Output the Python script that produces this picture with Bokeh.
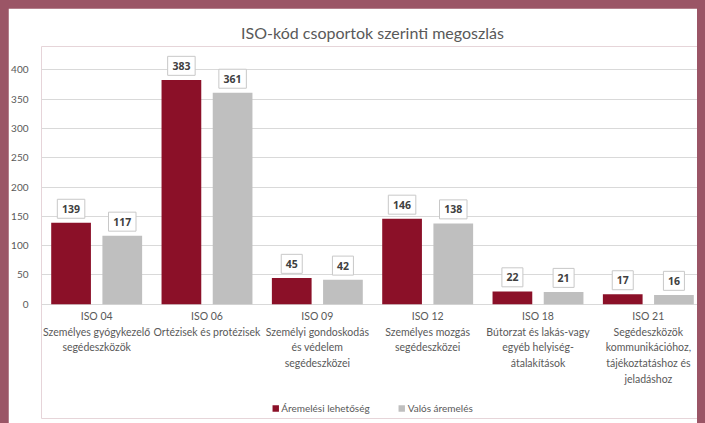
from bokeh.plotting import figure
from bokeh.models import (ColumnDataSource, FactorRange, Range1d, FixedTicker,
                          Legend, LegendItem)
from bokeh.core.properties import value
from bokeh.transform import dodge
from bokeh.embed import file_html
from bokeh.resources import INLINE

# ---- data ----
categories = ["ISO 04", "ISO 06", "ISO 09", "ISO 12", "ISO 18", "ISO 21"]
category_labels = [
    "ISO 04\nSzemélyes gyógykezelő\nsegédeszközök",
    "ISO 06\nOrtézisek és protézisek",
    "ISO 09\nSzemélyi gondoskodás\nés védelem\nsegédeszközei",
    "ISO 12\nSzemélyes mozgás\nsegédeszközei",
    "ISO 18\nBútorzat és lakás-vagy\negyéb helyiség-\nátalakítások",
    "ISO 21\nSegédeszközök\nkommunikációhoz,\ntájékoztatáshoz és\njeladáshoz",
]
aremelesi_lehetoseg = [139, 383, 45, 146, 22, 17]
valos_aremeles = [117, 361, 42, 138, 21, 16]
series_names = ["Áremelési lehetőség", "Valós áremelés"]
y_ticks = [0, 50, 100, 150, 200, 250, 300, 350, 400]
title_text = "ISO-kód csoportok szerinti megoszlás"

RED = "#8B1028"
GREY = "#BFBFBF"
TXT = "#595959"
FONT = "Lato"
NUMFONT = "Noto Sans"

src = ColumnDataSource(dict(
    cat=categories,
    lbl=category_labels,
    zero=[0] * len(categories),
    a=aremelesi_lehetoseg,
    v=valos_aremeles,
    a_txt=[str(x) for x in aremelesi_lehetoseg],
    v_txt=[str(x) for x in valos_aremeles],
    a_bw=[8 + 6.5 * len(str(x)) for x in aremelesi_lehetoseg],
    v_bw=[8 + 6.5 * len(str(x)) for x in valos_aremeles],
))

# the frame extends above the top tick and below zero so that the
# multi-line category labels and the legend are drawn inside it
p = figure(x_range=FactorRange(*categories, range_padding=0),
           y_range=Range1d(-195, 440),
           width=697, height=415, output_backend="svg", toolbar_location=None,
           min_border_left=33, min_border_right=2, min_border_top=38,
           min_border_bottom=5)
p.outline_line_color = None
p.background_fill_color = "white"
p.border_fill_color = "white"

p.title.text = title_text
p.title.align = "center"
p.title.text_font = FONT
p.title.text_font_size = "16px"
p.title.text_font_style = "normal"
p.title.text_color = TXT

off = 0.232
w = 0.36
r1 = p.vbar(x=dodge("cat", -off, range=p.x_range), top="a", width=w, source=src,
            fill_color=RED, line_color=None)
r2 = p.vbar(x=dodge("cat", off, range=p.x_range), top="v", width=w, source=src,
            fill_color=GREY, line_color=None)

# value boxes just above each bar
LIFT = 24  # data units between bar top and box centre
for col, txt, bw, dx in (("a", "a_txt", "a_bw", -off), ("v", "v_txt", "v_bw", off)):
    p.rect(x=dodge("cat", dx, range=p.x_range), y=dodge(col, LIFT), source=src,
           width=bw, height=19, width_units="screen", height_units="screen",
           fill_color="white", line_color="#C8C8C8", line_width=1)
    p.text(x=dodge("cat", dx, range=p.x_range), y=dodge(col, LIFT), text=txt,
           source=src, text_align="center", text_baseline="middle",
           text_font=value(NUMFONT), text_font_size="10.5px",
           text_font_style="bold", text_color="#404040")

# category labels under the zero line
p.text(x="cat", y="zero", text="lbl", source=src, y_offset=6,
       text_align="center", text_baseline="top", text_font=value(FONT),
       text_font_size="10.5px", text_color=TXT, text_line_height=1.3)

# axes
p.xaxis.visible = False
p.yaxis.ticker = FixedTicker(ticks=y_ticks)
p.yaxis.axis_line_color = None
p.yaxis.major_tick_line_color = None
p.yaxis.minor_tick_line_color = None
p.yaxis.major_label_text_font = FONT
p.yaxis.major_label_text_font_size = "10px"
p.yaxis.major_label_text_color = TXT
p.yaxis.major_label_standoff = 7

p.xgrid.grid_line_color = None
p.ygrid.grid_line_color = "#D9D9D9"
p.ygrid.ticker = FixedTicker(ticks=y_ticks)

legend = Legend(items=[LegendItem(label=series_names[0], renderers=[r1]),
                       LegendItem(label=series_names[1], renderers=[r2])],
                orientation="horizontal", location="bottom_center",
                label_text_font=FONT, label_text_font_size="10px",
                label_text_color=TXT, glyph_width=8, glyph_height=8,
                label_standoff=2, spacing=28, border_line_color=None,
                background_fill_alpha=0, margin=4, padding=3)
p.add_layout(legend)

html = file_html(p, INLINE)
# colour the page margin (only touch the real <body> tag, after </head>)
head_end = html.rfind("</head>")
if head_end != -1:
    body_pos = html.find("<body", head_end)
    if body_pos != -1:
        tag_end = html.find(">", body_pos)
        html = (html[:body_pos]
                + '<body style="margin:8px; background-color:#9B5566;">'
                + html[tag_end + 1:])
open("out.html", "w").write(html)
